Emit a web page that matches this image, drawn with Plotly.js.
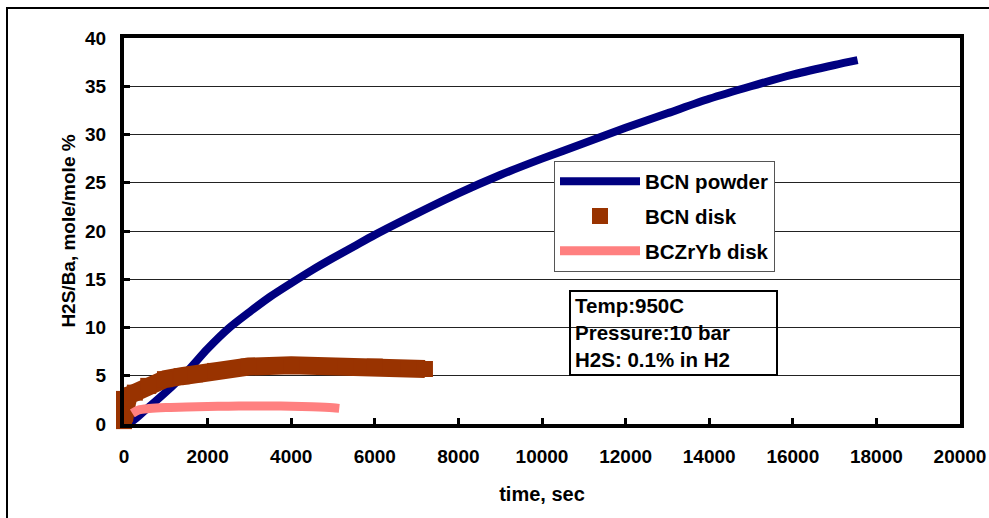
<!DOCTYPE html>
<html>
<head>
<meta charset="utf-8">
<script src="https://cdn.plot.ly/plotly-3.0.1.min.js"></script>
<style>
html,body{margin:0;padding:0;background:#fff;}
#chart{width:989px;height:518px;}
</style>
</head>
<body>
<div id="chart"></div>
<script>
// BCN powder
const powderTime = [0,200,500,1000,1500,2000,2500,3000,3500,4000,4500,5000,5500,6000,7000,8000,9000,10000,11000,12000,13000,14000,15000,16000,17000,17550];
const powderVal  = [0,0.3,1.4,3.3,5.4,7.8,9.9,11.6,13.2,14.6,15.95,17.2,18.4,19.6,21.8,23.9,25.8,27.5,29.1,30.7,32.2,33.7,35.0,36.2,37.2,37.7];
// BCN disk
const diskTime = [0,0,0,100,260,580,980,1380,1700,2180,2980,4000,5300,6000,6800,7200];
const diskVal  = [0.3,1.5,2.6,2.95,3.25,3.95,4.65,4.95,5.15,5.5,5.95,6.1,6.0,5.95,5.8,5.7];
// BCZrYb disk
const zrTime = [200,350,600,1000,1500,2000,2500,3000,3500,4000,4500,5000,5150];
const zrVal  = [1.1,1.45,1.6,1.7,1.75,1.82,1.85,1.87,1.87,1.84,1.78,1.68,1.62];

const seriesNames = ['BCN powder','BCN disk','BCZrYb disk'];
const xTicks = [0,2000,4000,6000,8000,10000,12000,14000,16000,18000,20000];
const yTicks = [0,5,10,15,20,25,30,35,40];
const noteLines = ['Temp:950C','Pressure:10 bar','H2S: 0.1% in H2'];

const FONT = '"Liberation Sans", Arial, sans-serif';

const traces = [
  {x: powderTime, y: powderVal, name: seriesNames[0], mode: 'lines',
   line: {color: '#000080', width: 8, shape: 'spline', smoothing: 0.8}, legendgroup: 'a'},
  {x: diskTime, y: diskVal, name: seriesNames[1], mode: 'lines', showlegend: false,
   line: {color: '#993300', width: 18}, legendgroup: 'b'},
  {x: diskTime, y: diskVal, name: seriesNames[1], mode: 'markers', cliponaxis: false,
   marker: {symbol: 'square', size: 16, color: '#993300'}, legendgroup: 'b'},
  {x: zrTime, y: zrVal, name: seriesNames[2], mode: 'lines',
   line: {color: '#FF8080', width: 9, shape: 'spline', smoothing: 0.8}, legendgroup: 'c'}
];

const L = 124, R = 960, T = 38, B = 424;
const W = R - L, H = B - T;
const px = v => (v - L) / W;
const py = v => (B - v) / H;

const layout = {
  width: 989, height: 518,
  margin: {l: L, r: 989 - R, t: T, b: 518 - B},
  paper_bgcolor: '#fff', plot_bgcolor: '#fff',
  font: {family: FONT, color: '#000', size: 19, weight: 'bold'},
  showlegend: true,
  legend: {
    x: px(554), y: py(160.5), xanchor: 'left', yanchor: 'top',
    bgcolor: '#fff', bordercolor: '#555', borderwidth: 1,
    font: {family: FONT, size: 20.5, weight: 'bold', color: '#000'},
    traceorder: 'grouped', tracegroupgap: 5, itemwidth: 80
  },
  xaxis: {
    range: [0, 20000], tickvals: xTicks, ticktext: xTicks.map(String),
    showgrid: false, zeroline: false,
    showline: true, linecolor: '#000', linewidth: 4, mirror: true,
    ticks: 'inside', ticklen: 6, tickwidth: 3, tickcolor: '#000',
    tickfont: {family: FONT, size: 19, weight: 'bold'},
    ticklabelstandoff: 12,
    title: {text: 'time, sec', font: {family: FONT, size: 20, weight: 'bold'}, standoff: 22}
  },
  yaxis: {
    range: [0, 40], tickvals: yTicks, ticktext: yTicks.map(String),
    showgrid: true, gridcolor: '#222', gridwidth: 1, zeroline: false,
    showline: true, linecolor: '#000', linewidth: 4, mirror: true,
    ticks: 'inside', ticklen: 6, tickwidth: 3, tickcolor: '#000',
    tickfont: {family: FONT, size: 19, weight: 'bold'},
    ticklabelstandoff: 10,
    title: {text: 'H2S/Ba, mole/mole %', font: {family: FONT, size: 19, weight: 'bold'}, standoff: 5}
  },
  shapes: [
    {type: 'rect', xref: 'paper', yref: 'paper', x0: px(570), x1: px(777), y0: py(375), y1: py(291),
     line: {color: '#000', width: 2}, fillcolor: 'rgba(0,0,0,0)', layer: 'above'},
    {type: 'rect', xref: 'paper', yref: 'paper', x0: px(7), x1: px(995), y0: py(540), y1: py(8),
     line: {color: '#000', width: 2}, fillcolor: 'rgba(0,0,0,0)', layer: 'below'}
  ],
  annotations: noteLines.map((t, i) => ({
    text: t, xref: 'paper', yref: 'paper', x: px(573), y: py(305.5 + i * 27.2),
    xanchor: 'left', yanchor: 'middle', showarrow: false, align: 'left',
    font: {family: FONT, size: 20.5, weight: 'bold', color: '#000'}
  }))
};

Plotly.newPlot('chart', traces, layout, {displayModeBar: false, staticPlot: true});
</script>
</body>
</html>
